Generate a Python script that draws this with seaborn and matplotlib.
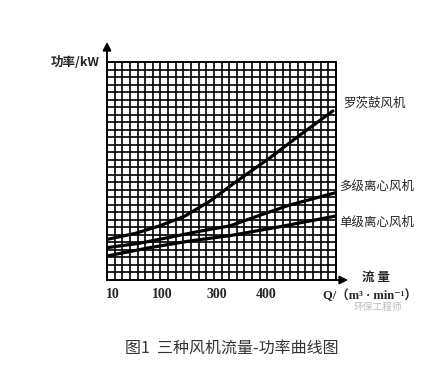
import matplotlib
matplotlib.use('Agg')
import matplotlib.pyplot as plt
import seaborn as sns
import pandas as pd

# chart values, in grid-paper cells (30 columns x 29 rows)
roots_x = [0, 3.7, 6.9, 10.2, 13.5, 16.8, 21.4, 25.3, 29.6]
roots_y = [5.4, 6.2, 7.2, 8.5, 10.5, 13.0, 16.3, 19.3, 22.5]
multi_x = [0, 4.3, 8.3, 12.2, 16.1, 20.0, 24.0, 29.9]
multi_y = [4.3, 4.9, 5.7, 6.5, 7.2, 8.6, 10.0, 11.6]
single_x = [0, 5.6, 10.9, 16.1, 22.7, 29.9]
single_y = [3.2, 4.3, 5.2, 5.9, 7.1, 8.5]
names = ['罗茨鼓风机', '多级离心风机', '单级离心风机']
tick_pos = [0.7, 7.2, 14.4, 20.8]
tick_labels = ['10', '100', '300', '400']

df = pd.concat([
    pd.DataFrame({'x': roots_x, 'y': roots_y, 'fan': names[0]}),
    pd.DataFrame({'x': multi_x, 'y': multi_y, 'fan': names[1]}),
    pd.DataFrame({'x': single_x, 'y': single_y, 'fan': names[2]}),
])

sns.set_style('white')
plt.rcParams['font.family'] = ['Noto Sans CJK SC', 'DejaVu Sans']

fig = plt.figure(figsize=(4.46, 3.86), dpi=100)
ax = fig.add_axes([0.2399, 0.2746, 0.5135, 0.5648])

sns.lineplot(data=df, x='x', y='y', hue='fan', sort=False,
             palette=['black'] * 3, linewidth=2.3, legend=False, ax=ax)

ax.set_xlim(0, 30)
ax.set_ylim(0, 29)
ax.set_xticks(range(31), minor=True)
ax.set_yticks(range(30), minor=True)
ax.grid(which='minor', color='black', linewidth=1.2)
ax.set_xticks(tick_pos)
ax.set_xticklabels(tick_labels, family='Liberation Serif', fontsize=10, fontweight='bold')
ax.set_yticks([])
ax.tick_params(axis='x', which='both', length=0, pad=6)
ax.set_xlabel('')
ax.set_ylabel('')
for s in ax.spines.values():
    s.set_color('black')
    s.set_linewidth(1.4)

# axis arrows
ax.annotate('', xy=(0, 1.105), xytext=(0, 0.99), xycoords='axes fraction',
            arrowprops=dict(arrowstyle='-|>', color='black', lw=1.4, mutation_scale=12),
            annotation_clip=False)
ax.annotate('', xy=(1.065, 0), xytext=(0.99, 0), xycoords='axes fraction',
            arrowprops=dict(arrowstyle='-|>', color='black', lw=1.4, mutation_scale=12),
            annotation_clip=False)

# curve labels
ax.text(1.03, 0.81, names[0], transform=ax.transAxes, fontsize=9, va='center')
ax.text(1.015, 0.43, names[1], transform=ax.transAxes, fontsize=9, va='center')
ax.text(1.015, 0.265, names[2], transform=ax.transAxes, fontsize=9, va='center')

fig.text(100 / 446, 1 - 63 / 386, '功率/kW', ha='right', va='center', fontsize=9, fontweight='bold')
fig.text(376 / 446, 1 - 277 / 386, '流 量', ha='center', va='center', fontsize=9, fontweight='bold')
fig.text(370 / 446, 1 - 296 / 386, 'Q/（m³ · min⁻¹）', ha='center', va='center', fontsize=9,
         fontweight='bold', family=['Liberation Serif', 'DejaVu Serif', 'Noto Sans CJK SC'])
fig.text(378 / 446, 1 - 307 / 386, '环保工程师', ha='center', va='center', fontsize=7, color='#bbbbbb')
fig.text(232 / 446, 1 - 348 / 386, '图1  三种风机流量-功率曲线图', ha='center', va='center',
         fontsize=11.5, color='#333333')

fig.savefig('out.png', dpi=100, facecolor='white')
